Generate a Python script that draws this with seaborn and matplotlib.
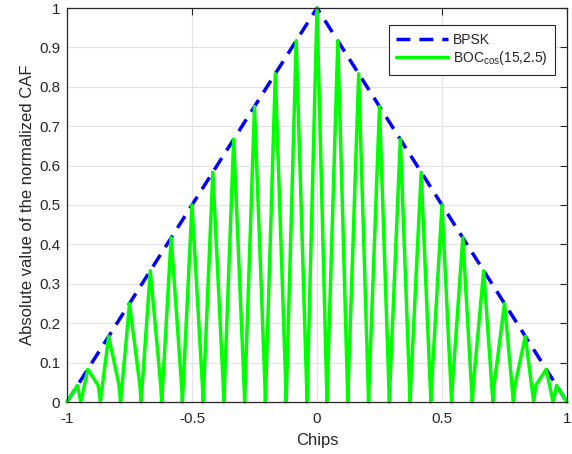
import matplotlib
matplotlib.use("Agg")
import matplotlib.pyplot as plt
import seaborn as sns
import pandas as pd

# BPSK triangle envelope vertices
bpsk_x = [-1.0, 0.0, 1.0]
bpsk_y = [0.0, 1.0, 0.0]

# BOCcos(15,2.5) |CAF| vertices
boc_x = [-1.0, -0.9583, -0.9444, -0.9167, -0.875, -0.8667, -0.8333, -0.7917, -0.7857,
         -0.75, -0.7083, -0.7037, -0.6667, -0.625, -0.6212, -0.5833, -0.5417, -0.5385,
         -0.5, -0.4583, -0.4556, -0.4167, -0.375, -0.3725, -0.3333, -0.2917, -0.2895,
         -0.25, -0.2083, -0.2063, -0.1667, -0.125, -0.1232, -0.0833, -0.0417, -0.04,
         0.0,
         0.04, 0.0417, 0.0833, 0.1232, 0.125, 0.1667, 0.2063, 0.2083, 0.25, 0.2895,
         0.2917, 0.3333, 0.3725, 0.375, 0.4167, 0.4556, 0.4583, 0.5, 0.5385, 0.5417,
         0.5833, 0.6212, 0.625, 0.6667, 0.7037, 0.7083, 0.75, 0.7857, 0.7917, 0.8333,
         0.8667, 0.875, 0.9167, 0.9444, 0.9583, 1.0]
boc_y = [0.0, 0.042, 0.0, 0.083, 0.042, 0.0, 0.167, 0.042, 0.0,
         0.25, 0.042, 0.0, 0.333, 0.042, 0.0, 0.417, 0.042, 0.0,
         0.5, 0.042, 0.0, 0.583, 0.042, 0.0, 0.667, 0.042, 0.0,
         0.75, 0.042, 0.0, 0.833, 0.042, 0.0, 0.917, 0.042, 0.0,
         1.0,
         0.0, 0.042, 0.917, 0.0, 0.042, 0.833, 0.0, 0.042, 0.75, 0.0,
         0.042, 0.667, 0.0, 0.042, 0.583, 0.0, 0.042, 0.5, 0.0, 0.042,
         0.417, 0.0, 0.042, 0.333, 0.0, 0.042, 0.25, 0.0, 0.042, 0.167,
         0.0, 0.042, 0.083, 0.0, 0.042, 0.0]

x_ticks = [-1, -0.5, 0, 0.5, 1]
x_ticklabels = ["-1", "-0.5", "0", "0.5", "1"]
y_ticks = [0, 0.1, 0.2, 0.3, 0.4, 0.5, 0.6, 0.7, 0.8, 0.9, 1]
y_ticklabels = ["0", "0.1", "0.2", "0.3", "0.4", "0.5", "0.6", "0.7", "0.8", "0.9", "1"]

sns.set_style("white")
plt.rcParams['font.family'] = ['Liberation Sans', 'DejaVu Sans']
plt.rcParams['mathtext.fontset'] = 'custom'
plt.rcParams['mathtext.rm'] = 'Liberation Sans'
plt.rcParams['mathtext.it'] = 'Liberation Sans'
plt.rcParams['axes.unicode_minus'] = False

fig = plt.figure(figsize=(5.72, 4.54), dpi=100)
ax = fig.add_axes([67/572, 1 - 402/454, 500/572, 394/454])

df_b = pd.DataFrame({"x": bpsk_x, "y": bpsk_y})
df_c = pd.DataFrame({"x": boc_x, "y": boc_y})

sns.lineplot(data=df_b, x="x", y="y", ax=ax, color=(0, 0, 1), lw=2.5,
             sort=False, estimator=None, label="BPSK")
ax.lines[-1].set_dashes((4, 2.6))
ax.lines[-1].set_clip_on(False)
sns.lineplot(data=df_c, x="x", y="y", ax=ax, color=(0, 1, 0), lw=2.5,
             sort=False, estimator=None, label=r"BOC$_{\mathrm{cos}}$(15,2.5)")
ax.lines[-1].set_clip_on(False)

ax.set_xlim(-1, 1)
ax.set_ylim(0, 1)
ax.set_xticks(x_ticks)
ax.set_xticklabels(x_ticklabels)
ax.set_yticks(y_ticks)
ax.set_yticklabels(y_ticklabels)
ax.grid(True, color='#e3e3e3', lw=0.8)
ax.set_axisbelow(True)
ax.tick_params(direction='in', length=5, width=0.8, color='#262626',
               top=True, right=True, labelsize=11, labelcolor='#262626')
ax.tick_params(axis='x', pad=7)
ax.tick_params(axis='y', pad=5)
for s in ax.spines.values():
    s.set_color('#262626')
    s.set_linewidth(0.9)
ax.set_xlabel("Chips", fontsize=12, color='#262626', labelpad=5)
ax.set_ylabel("Absolute value of the normalized CAF", fontsize=12, color='#262626', labelpad=3)

leg = ax.legend(loc='upper right', bbox_to_anchor=(0.976, 0.957), fancybox=False,
                framealpha=1, edgecolor='#262626', fontsize=10, handlelength=3.7,
                borderpad=0.55, labelspacing=0.2, handletextpad=0.35, borderaxespad=0)
leg.get_frame().set_linewidth(0.8)

fig.savefig("out.png", dpi=100)
